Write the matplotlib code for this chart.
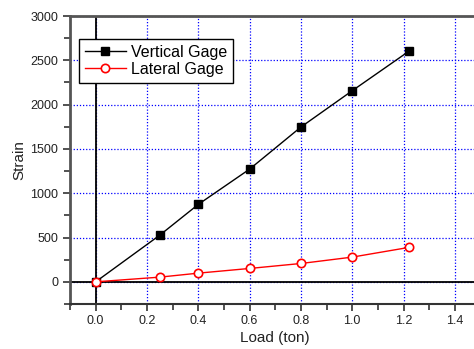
import matplotlib
matplotlib.use("Agg")
import matplotlib.pyplot as plt
from matplotlib.ticker import MultipleLocator

plt.rcParams['font.family'] = ['Liberation Sans', 'DejaVu Sans']

load = [0.0, 0.25, 0.4, 0.6, 0.8, 1.0, 1.22]
vertical = [0, 527, 874, 1272, 1747, 2157, 2601]
lateral = [0, 53, 98, 151, 207, 279, 388]

fig = plt.figure(figsize=(4.74, 3.49), dpi=100)
ax = fig.add_axes([0.1477, 0.129, 0.866, 0.825])

ax.set_xlim(-0.1, 1.5)
ax.set_ylim(-250, 3000)

ax.grid(True, color='#0000ff', linestyle=(0, (1, 1.5)), linewidth=0.9)
ax.set_axisbelow(True)
ax.axhline(0, color='black', linewidth=1.3, zorder=1.5)
ax.axvline(0, color='black', linewidth=1.3, zorder=1.5)

ax.plot(load, vertical, color='black', linewidth=1, marker='s', markersize=6,
        markerfacecolor='black', label='Vertical Gage', zorder=3)
ax.plot(load, lateral, color='red', linewidth=1, marker='o', markersize=6,
        markerfacecolor='white', markeredgewidth=1.2, label='Lateral Gage', zorder=3)

ax.xaxis.set_major_locator(MultipleLocator(0.2))
ax.xaxis.set_minor_locator(MultipleLocator(0.1))
ax.yaxis.set_major_locator(MultipleLocator(500))
ax.yaxis.set_minor_locator(MultipleLocator(250))
ax.set_xticks([0.0, 0.2, 0.4, 0.6, 0.8, 1.0, 1.2, 1.4])
ax.set_xticklabels(['0.0', '0.2', '0.4', '0.6', '0.8', '1.0', '1.2', '1.4'])

ax.tick_params(which='both', direction='out', width=1.2, labelsize=9,
               colors='#333333', labelcolor='#222222')
ax.tick_params(which='major', length=5)
ax.tick_params(which='minor', length=4)
ax.tick_params(axis='x', pad=3)

for side in ['left', 'top', 'bottom']:
    ax.spines[side].set_color('#555555')
    ax.spines[side].set_linewidth(2)
ax.spines['bottom'].set_linewidth(1.5)
ax.spines['bottom'].set_color('#333333')
ax.spines['right'].set_visible(False)

ax.set_xlabel('Load (ton)', fontsize=11, color='#222222', labelpad=3)
ax.set_ylabel('Strain', fontsize=11, color='#222222', labelpad=3)

leg = ax.legend(loc='upper left', bbox_to_anchor=(0.022, 0.92), fontsize=11.5,
                frameon=True, fancybox=False, edgecolor='black',
                handlelength=2.6, borderpad=0.35, labelspacing=0.15,
                handletextpad=0.3, borderaxespad=0)
leg.get_frame().set_linewidth(1)
leg.get_frame().set_alpha(1)

fig.savefig('out.png', dpi=100)
